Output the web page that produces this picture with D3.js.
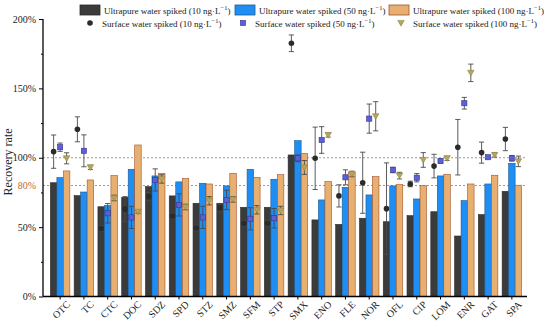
<!DOCTYPE html>
<html>
<head>
<meta charset="utf-8">
<script src="https://cdn.jsdelivr.net/npm/d3@7"></script>
<style>
  body { margin: 0; background: #fff; }
  text { font-family: "Liberation Serif", "Times New Roman", serif; }
</style>
</head>
<body>
<svg id="chart" width="550" height="329"></svg>
<script>
var categories = ["OTC","TC","CTC","DOC","SDZ","SPD","STZ","SMZ","SFM","STP","SMX","ENO","FLE","NOR","OFL","CIP","LOM","ENR","GAT","SPA"];

// bars: ultrapure water
var ultra10  = [82, 72.7, 64.7, 71.5, 79.2, 72.5, 67.2, 67.2, 64.3, 64.3, 102, 55.2, 52, 56.4, 53.9, 58.3, 61.1, 43.6, 59, 75.8];
var ultra50  = [85.7, 75.3, 65.5, 91.7, 86.9, 82.6, 81.6, 79.7, 91.7, 84.5, 112.3, 69.6, 78.7, 73.2, 79.7, 70.3, 86.9, 69.1, 81.1, 96];
var ultra100 = [90.5, 84, 87.1, 109.2, 88.8, 85, 81.1, 88.8, 85.9, 87.8, 103.2, 82.8, 89.3, 86.4, 80.6, 79.9, 88.1, 81.1, 87.4, 80.2];

// points: surface water (mean and +/- error)
var surf10     = [104.4, 120.5, 49, 63, 72, 58, 49.4, 64, 52.8, 52.8, 182.5, 99.6, 72.5, 82, 63.3, 81.1, 94, 107.6, 103.7, 113.5];
var surf10Err  = [12, 9, 2, 9, 3, 2, 2, 3, 2, 2, 6, 22.5, 8, 22, 33, 2, 8.5, 20, 7.6, 8.4];
var surf50     = [107.6, 105, 60, 57, 84, 66, 57, 69.6, 56, 56.4, 99.6, 112.8, 85.9, 128.2, 91.2, 85.6, 97.6, 139.3, 100.4, 99.6];
var surf50Err  = [3, 11.5, 7, 8, 8, 8, 8, 7, 8, 7, 2.5, 9.6, 5.4, 10.5, 2, 3, 1.5, 4.2, 1, 2];
var surf100    = [99.6, 93.1, 71, 61, 84.7, 64.5, 69, 70, 62.5, 62, 93, 116.4, 88.3, 129.9, 87.1, 98.4, 99.6, 161.2, 102, 97.4];
var surf100Err = [4, 1.5, 2, 1, 3, 2, 3, 2, 3, 3, 5, 1.5, 2, 10.5, 2.4, 5.3, 1.5, 6.3, 1.5, 3.8];

var yTicks = [0, 50, 100, 150, 200];
var yMinor = [25, 75, 125, 175];
var refLines = [80, 100];

var barSeries = [
  {name: "Ultrapure water spiked (10 ng\u00B7L", values: ultra10,  fill: "#3b3b3b", stroke: "#2a2a2a"},
  {name: "Ultrapure water spiked (50 ng\u00B7L", values: ultra50,  fill: "#1e8ef5", stroke: "#1d5a8a"},
  {name: "Ultrapure water spiked (100 ng\u00B7L", values: ultra100, fill: "#e8b070", stroke: "#a0522d"}
];
var pointSeries = [
  {name: "Surface water spiked (10 ng\u00B7L", values: surf10,  err: surf10Err,  shape: "circle"},
  {name: "Surface water spiked (50 ng\u00B7L", values: surf50,  err: surf50Err,  shape: "square"},
  {name: "Surface water spiked (100 ng\u00B7L", values: surf100, err: surf100Err, shape: "triangle"}
];

var svg = d3.select("#chart"),
    plotLeft = 43, plotRight = 527, plotTop = 19, plotBottom = 296.5;

var x = d3.scaleBand()
    .domain(categories)
    .range([48, 524])
    .paddingInner(0.18)
    .paddingOuter(0.1);

var xs = d3.scaleBand()
    .domain([0, 1, 2])
    .range([0, x.bandwidth()]);

var y = d3.scaleLinear()
    .domain([0, 200])
    .range([plotBottom, plotTop]);

// dotted reference lines
svg.selectAll(".ref")
  .data(refLines)
  .enter().append("line")
    .attr("x1", plotLeft).attr("x2", plotRight)
    .attr("y1", d => y(d)).attr("y2", d => y(d))
    .attr("stroke", "#9a9a9a")
    .attr("stroke-width", 1)
    .attr("stroke-dasharray", "2,2");

// bars
barSeries.forEach(function(s, k) {
  svg.append("g").selectAll("rect")
    .data(s.values)
    .enter().append("rect")
      .attr("x", (d, i) => x(categories[i]) + xs(k))
      .attr("y", d => y(d))
      .attr("width", xs.bandwidth())
      .attr("height", d => plotBottom - y(d))
      .attr("fill", s.fill)
      .attr("stroke", s.stroke)
      .attr("stroke-width", 0.6);
});

function drawMarker(g, shape, cx, cy) {
  if (shape == "circle") {
    g.append("circle").attr("cx", cx).attr("cy", cy).attr("r", 2.8)
      .attr("fill", "#2b2b2b");
  } else if (shape == "square") {
    g.append("rect").attr("x", cx - 2.6).attr("y", cy - 2.6)
      .attr("width", 5.2).attr("height", 5.2)
      .attr("fill", "#5d5fd8").attr("stroke", "#34378a").attr("stroke-width", 0.6);
  } else {
    g.append("path")
      .attr("d", "M" + (cx - 3.3) + "," + (cy - 2.6) + "L" + (cx + 3.3) + "," + (cy - 2.6) + "L" + cx + "," + (cy + 3.2) + "Z")
      .attr("fill", "#b3a65c").attr("stroke", "#8a7f3e").attr("stroke-width", 0.5);
  }
}

// points with error bars
pointSeries.forEach(function(s, k) {
  var g = svg.append("g");
  s.values.forEach(function(v, i) {
    var cx = x(categories[i]) + xs(k) + xs.bandwidth() / 2,
        hi = y(v + s.err[i]), lo = y(v - s.err[i]);
    g.append("line").attr("x1", cx).attr("x2", cx).attr("y1", hi).attr("y2", lo)
      .attr("stroke", "#4a4a4a").attr("stroke-width", 0.9);
    [hi, lo].forEach(function(yy) {
      g.append("line").attr("x1", cx - 2.6).attr("x2", cx + 2.6).attr("y1", yy).attr("y2", yy)
        .attr("stroke", "#4a4a4a").attr("stroke-width", 0.9);
    });
    drawMarker(g, s.shape, cx, y(v));
  });
});

// y axis
var yAxis = d3.axisLeft(y)
    .tickValues(yTicks)
    .tickSize(4)
    .tickFormat(d => d + "%");

var yg = svg.append("g")
    .attr("transform", "translate(" + plotLeft + ",0)")
    .call(yAxis);
yg.select(".domain").attr("stroke-width", 1.3).attr("d", "M0," + plotTop + "V" + plotBottom);
yg.selectAll("text").attr("font-size", 10).attr("fill", "#222")
    .attr("font-family", "Liberation Serif");

svg.append("g")
    .attr("transform", "translate(" + plotLeft + ",0)")
    .call(d3.axisLeft(y).tickValues(yMinor).tickSize(2).tickFormat(""))
    .select(".domain").remove();

svg.append("text")
    .attr("x", plotLeft - 7)
    .attr("y", y(80))
    .attr("dy", "0.35em")
    .attr("text-anchor", "end")
    .attr("font-size", 10)
    .attr("fill", "#c0652f")
    .text("80%");

svg.append("text")
    .attr("transform", "translate(12," + y(97) + ") rotate(-90)")
    .attr("text-anchor", "middle")
    .attr("font-size", 12)
    .attr("fill", "#222")
    .text("Recovery rate");

// x axis
var xg = svg.append("g")
    .attr("transform", "translate(0," + plotBottom + ")")
    .call(d3.axisBottom(x).tickSize(3).tickSizeOuter(0));
xg.select(".domain").attr("stroke-width", 1.3).attr("d", "M" + plotLeft + ",0H" + plotRight);
xg.selectAll("text")
    .attr("font-size", 10)
    .attr("font-family", "Liberation Serif")
    .attr("fill", "#222")
    .attr("text-anchor", "end")
    .attr("transform", "translate(6,4) rotate(-45)")
    .attr("dy", "0.35em")
    .attr("y", 3);

// legend
var legBars = [{x: 80}, {x: 235}, {x: 389}];
var legPts = [{x: 90}, {x: 243}, {x: 401}];
barSeries.forEach(function(s, k) {
  svg.append("rect")
    .attr("x", legBars[k].x).attr("y", 5)
    .attr("width", 20).attr("height", 10)
    .attr("fill", s.fill).attr("stroke", s.stroke).attr("stroke-width", 0.8);
  var t = svg.append("text")
    .attr("x", legBars[k].x + 24).attr("y", 13.5)
    .attr("font-size", 9).attr("fill", "#222")
    .text(s.name);
  t.append("tspan").attr("dy", -3.5).attr("font-size", 6.5).text("\u22121");
  t.append("tspan").attr("dy", 3.5).text(")");
});
pointSeries.forEach(function(s, k) {
  var g = svg.append("g");
  drawMarker(g, s.shape, legPts[k].x, 23);
  var t = svg.append("text")
    .attr("x", legPts[k].x + 12).attr("y", 26.5)
    .attr("font-size", 9).attr("fill", "#222")
    .text(s.name);
  t.append("tspan").attr("dy", -3.5).attr("font-size", 6.5).text("\u22121");
  t.append("tspan").attr("dy", 3.5).text(")");
});
</script>
</body>
</html>
